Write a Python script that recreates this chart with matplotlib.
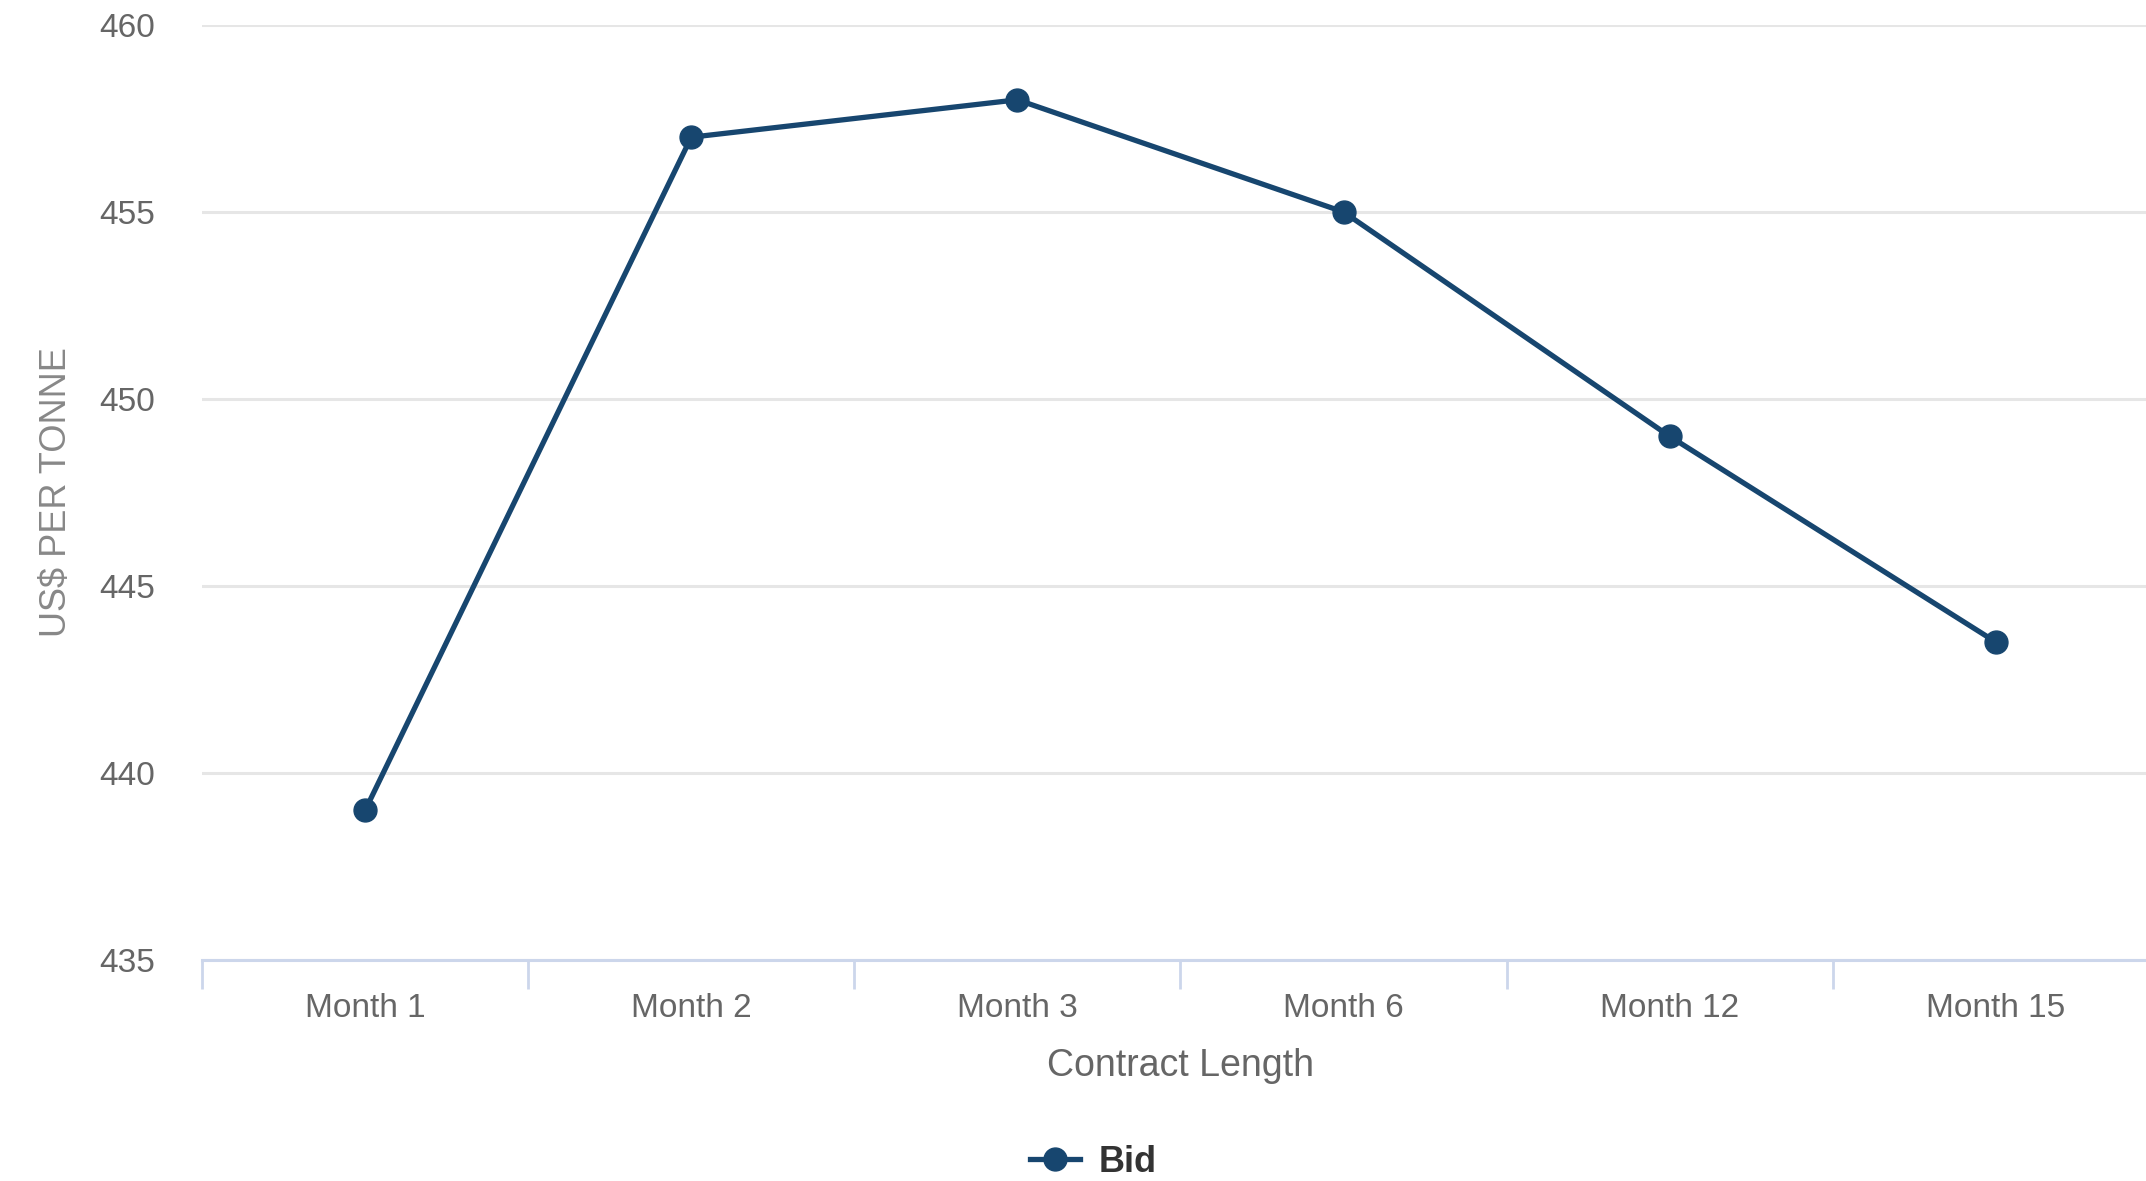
import matplotlib
matplotlib.use("Agg")
import matplotlib.pyplot as plt
from matplotlib.lines import Line2D

categories = ["Month 1", "Month 2", "Month 3", "Month 6", "Month 12", "Month 15"]
bid = [439, 457, 458, 455, 449, 443.5]
yticks = [435, 440, 445, 450, 455, 460]

plt.rcParams['font.family'] = ['Liberation Sans', 'DejaVu Sans']

W, H = 2146, 1181
fig = plt.figure(figsize=(W / 100, H / 100), dpi=100)
left, right, top, bottom = 202, 2159, 25, 960
ax = fig.add_axes([left / W, 1 - bottom / H, (right - left) / W, (bottom - top) / H])

line_color = "#17466f"
x = list(range(len(categories)))
ax.plot(x, bid, color=line_color, lw=3.8, marker="o", markersize=16.5, zorder=3,
        clip_on=False)

ax.set_xlim(-0.5, len(categories) - 0.5)
ax.set_ylim(435, 460)
ax.set_yticks(yticks)
ax.set_yticklabels([str(v) for v in yticks])
ax.grid(axis="y", color="#e6e6e6", lw=2.2)
ax.set_axisbelow(True)

for s in ["top", "right", "left"]:
    ax.spines[s].set_visible(False)
ax.spines["bottom"].set_color("#ccd6eb")
ax.spines["bottom"].set_linewidth(2.2)

ax.set_xticks(x)
ax.set_xticklabels(categories)
ax.tick_params(axis="x", which="major", length=0, pad=24, labelsize=24, labelcolor="#666666")
ax.set_xticks([i - 0.5 for i in range(len(categories) + 1)], minor=True)
ax.tick_params(axis="x", which="minor", length=21, width=2, color="#ccd6eb")
ax.tick_params(axis="y", length=0, pad=34, labelsize=24, labelcolor="#666666")

ax.set_xlabel("Contract Length", fontsize=27, color="#666666", labelpad=17)
ax.set_ylabel("US$ PER TONNE", fontsize=26, color="#888888")
ax.yaxis.set_label_coords((74 - left) / (right - left), 0.5)

handle = Line2D([0], [0], color=line_color, lw=3.8, marker="o", markersize=16.5)
fig.legend([handle], ["Bid"], loc="center", bbox_to_anchor=(1093 / W, 1 - 1162 / H),
           frameon=False, prop={"size": 26, "weight": "bold"}, handlelength=1.4,
           handletextpad=0.5, labelcolor="#333333")

fig.savefig("out.png", dpi=100)
